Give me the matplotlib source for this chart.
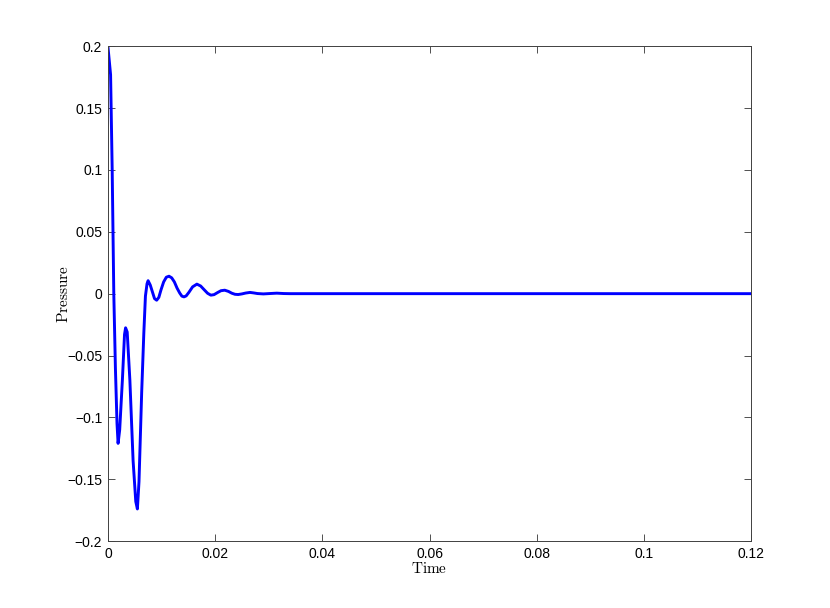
import matplotlib
matplotlib.use("Agg")
import matplotlib.pyplot as plt

# pressure trace
time = [0.0, 0.0005, 0.0008, 0.0011, 0.0014, 0.0017, 0.0019, 0.0022, 0.0027,
        0.0031, 0.0033, 0.0036, 0.0041, 0.0047, 0.0052, 0.0055, 0.0058, 0.0063,
        0.0067, 0.0070, 0.0073, 0.0075, 0.0079, 0.0083, 0.0087, 0.0091, 0.0095,
        0.0099, 0.0104, 0.0109, 0.0114, 0.0119, 0.0124, 0.0129, 0.0134, 0.0138,
        0.0142, 0.0146, 0.0151, 0.0158, 0.0166, 0.0173, 0.0180, 0.0186, 0.0192,
        0.0198, 0.0205, 0.0211, 0.0218, 0.0225, 0.0231, 0.0237, 0.0243, 0.0250,
        0.0257, 0.0265, 0.0272, 0.0279, 0.0290, 0.0302, 0.0315, 0.0328, 0.0340,
        0.0400, 0.0600, 0.0800, 0.1000, 0.1200]
pressure = [0.2, 0.177, 0.10, 0.0, -0.06, -0.105, -0.121, -0.11, -0.07,
            -0.033, -0.0276, -0.031, -0.07, -0.135, -0.168, -0.174, -0.152, -0.08,
            -0.032, -0.002, 0.008, 0.0105, 0.007, 0.0015, -0.004, -0.0053, -0.003,
            0.003, 0.0095, 0.0133, 0.0141, 0.0128, 0.0095, 0.0045, 0.0005, -0.002,
            -0.0026, -0.0018, 0.001, 0.0055, 0.0077, 0.0062, 0.003, 0.0003, -0.0012,
            -0.0008, 0.001, 0.0024, 0.0028, 0.0018, 0.0004, -0.0005, -0.0007, -0.0002,
            0.0005, 0.001, 0.0006, 0.0001, -0.0002, 0.0001, 0.0004, 0.0001, 0.0,
            0.0, 0.0, 0.0, 0.0, 0.0]

xticks = [0, 0.02, 0.04, 0.06, 0.08, 0.1, 0.12]
xticklabels = ["0", "0.02", "0.04", "0.06", "0.08", "0.1", "0.12"]
yticks = [-0.2, -0.15, -0.1, -0.05, 0, 0.05, 0.1, 0.15, 0.2]
yticklabels = ["\u22120.2", "\u22120.15", "\u22120.1", "\u22120.05", "0",
               "0.05", "0.1", "0.15", "0.2"]

plt.rcParams["font.family"] = ["Liberation Sans", "DejaVu Sans"]
plt.rcParams["mathtext.fontset"] = "cm"

fig = plt.figure(figsize=(8.3, 6.08), dpi=100)
ax = fig.add_axes([0.130, 0.110, 0.775, 0.814])

ax.plot(time, pressure, color="#0000ff", linewidth=2.1, solid_joinstyle="round")

ax.set_xlim(0, 0.12)
ax.set_ylim(-0.2, 0.2)
ax.set_xticks(xticks)
ax.set_xticklabels(xticklabels)
ax.set_yticks(yticks)
ax.set_yticklabels(yticklabels)

ax.tick_params(direction="in", length=5, width=0.6, color="0.2",
               top=True, right=True, labelsize=10, pad=4)
for s in ["top", "left", "right", "bottom"]:
    ax.spines[s].set_linewidth(0.7)
    ax.spines[s].set_color("0.25")

ax.set_xlabel(r"$\mathrm{Time}$", fontsize=11, labelpad=0)
ax.set_ylabel(r"$\mathrm{Pressure}$", fontsize=11, labelpad=-3)

fig.savefig("out.png", dpi=100, facecolor="white")
